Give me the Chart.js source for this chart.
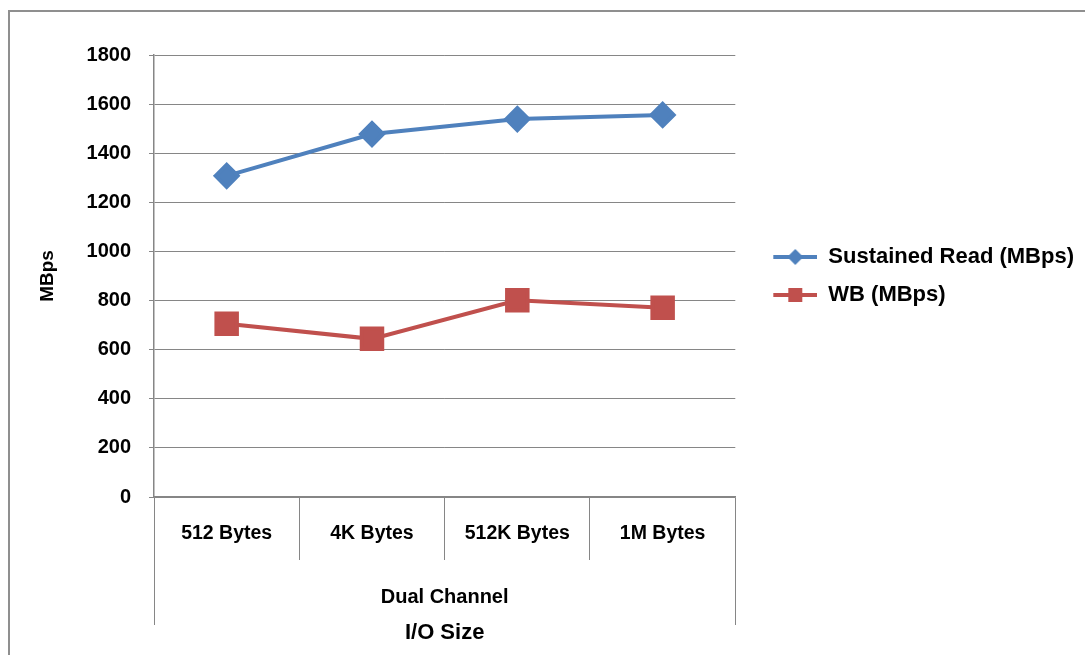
<!DOCTYPE html>
<html>
<head>
<meta charset="utf-8">
<script src="https://cdn.jsdelivr.net/npm/chart.js@4"></script>
<style>
  html, body { margin: 0; padding: 0; background: #fff; overflow: hidden; }
  #frame { position: absolute; left: 8px; top: 10px; width: 1200px; height: 800px; border: 2px solid #8f8f8f; }
  #wrap { position: absolute; left: 0; top: 0; width: 1085px; height: 655px; }
</style>
</head>
<body>
<div id="frame"></div>
<div id="wrap"><canvas id="chart"></canvas></div>
<script>
// --- Data ---
const ioSizes = ['512 Bytes', '4K Bytes', '512K Bytes', '1M Bytes'];
const groupLabels = ['Dual Channel'];
const seriesNames = ['Sustained Read (MBps)', 'WB (MBps)'];
const sustainedRead = [1308, 1478, 1539, 1556];
const wbValues = [706, 644, 801, 771];

const blue = '#4F81BD';
const red = '#C0504D';
const gridGray = '#868686';

Chart.defaults.font.family = "'Liberation Sans', Arial, sans-serif";
Chart.defaults.font.weight = 'bold';
Chart.defaults.color = '#000';

// legend icon: line with marker in the middle (left part is blank spacing)
function legendIcon(color, shape) {
    const c = document.createElement('canvas');
    c.width = 66;
    c.height = 24;
    const g = c.getContext('2d');
    g.strokeStyle = color;
    g.lineWidth = 4;
    g.beginPath();
    g.moveTo(22, 12);
    g.lineTo(66, 12);
    g.stroke();
    g.fillStyle = color;
    const cx = 44, cy = 12;
    if (shape === 'diamond') {
        g.beginPath();
        g.moveTo(cx, cy - 8);
        g.lineTo(cx + 8, cy);
        g.lineTo(cx, cy + 8);
        g.lineTo(cx - 8, cy);
        g.closePath();
        g.fill();
    } else {
        g.fillRect(cx - 7, cy - 7, 14, 14);
    }
    return c;
}
const icons = [legendIcon(blue, 'diamond'), legendIcon(red, 'square')];

new Chart(document.getElementById('chart'), {
    type: 'line',
    data: {
        labels: ioSizes,
        datasets: [{
            label: seriesNames[0],
            data: sustainedRead,
            borderColor: blue,
            backgroundColor: blue,
            borderWidth: 4,
            pointStyle: 'rectRot',
            pointRadius: 11,
            pointHoverRadius: 11,
            tension: 0
        }, {
            label: seriesNames[1],
            data: wbValues,
            borderColor: red,
            backgroundColor: red,
            borderWidth: 4,
            pointStyle: 'rect',
            pointRadius: 14.5,
            pointHoverRadius: 14.5,
            tension: 0
        }]
    },
    options: {
        responsive: true,
        maintainAspectRatio: false,
        animation: false,
        layout: { padding: { left: 10, top: 55, right: 1, bottom: 9 } },
        plugins: {
            tooltip: { enabled: false },
            legend: {
                position: 'right',
                fullSize: false,
                maxWidth: 420,
                labels: {
                    usePointStyle: true,
                    pointStyleWidth: 66,
                    padding: 16,
                    font: { size: 22, weight: 'bold' },
                    generateLabels(chart) {
                        const items = Chart.defaults.plugins.legend.labels.generateLabels(chart);
                        items.forEach((it, i) => { it.pointStyle = icons[i]; });
                        return items;
                    }
                }
            }
        },
        scales: {
            y: {
                min: 0,
                max: 1800,
                ticks: { stepSize: 200, padding: 18, format: { useGrouping: false }, font: { size: 20, weight: 'bold' } },
                grid: { color: gridGray, tickLength: 5 },
                border: { color: gridGray, width: 1.5 },
                title: { display: true, text: 'MBps', padding: { top: 26 }, font: { size: 19, weight: 'bold' } },
                afterFit(scale) { scale.width = 144; }
            },
            x: {
                offset: true,
                ticks: { padding: -38, maxRotation: 0, autoSkip: false, font: { size: 19.5, weight: 'bold' } },
                grid: { offset: true, drawOnChartArea: false, color: gridGray, tickLength: 63 },
                border: { color: gridGray, width: 1.5 },
                afterFit(scale) { scale.height = 63; }
            },
            x2: {
                type: 'category',
                position: 'bottom',
                labels: groupLabels,
                offset: true,
                ticks: { padding: -40, maxRotation: 0, font: { size: 20, weight: 'bold' } },
                grid: { offset: true, drawOnChartArea: false, color: gridGray, tickLength: 65 },
                border: { display: false },
                title: { display: true, text: 'I/O Size', padding: 0, font: { size: 22, weight: 'bold' } },
                afterFit(scale) { scale.height = 86; }
            }
        }
    }
});
</script>
</body>
</html>
